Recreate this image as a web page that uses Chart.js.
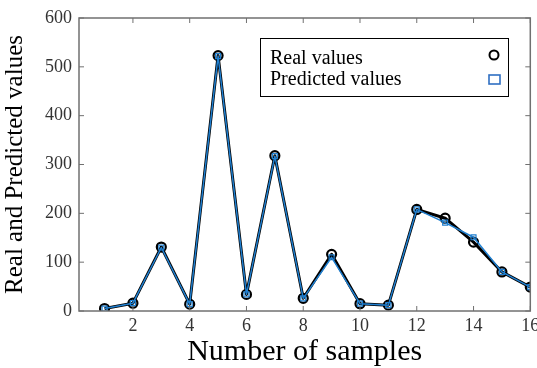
<!DOCTYPE html>
<html>
<head>
<meta charset="utf-8">
<script src="https://cdn.jsdelivr.net/npm/chart.js@4/dist/chart.umd.min.js"></script>
<style>
  html, body { margin: 0; padding: 0; background: #fff; }
  #wrap { width: 537px; height: 368px; }
</style>
</head>
<body>
<div id="wrap"><canvas id="chart"></canvas></div>
<script>
const samples = [1, 2, 3, 4, 5, 6, 7, 8, 9, 10, 11, 12, 13, 14, 15, 16];
const realValues = [5, 16, 131, 14, 523, 34, 318, 26, 116, 15, 12, 208, 190, 141, 80, 49];
const predictedValues = [5, 16, 130, 14, 522, 34, 317, 26, 110, 15, 12, 208, 181, 151, 80, 49];
const xTicks = [2, 4, 6, 8, 10, 12, 14, 16];
const yTicks = [0, 100, 200, 300, 400, 500, 600];

const serif = '"Liberation Serif", "DejaVu Serif", serif';
const blue = '#1f7fd0';

// frame around the plot and inward tick marks
const framePlugin = {
    id: 'frame',
    afterDraw(chart) {
        const ctx = chart.ctx;
        const a = chart.chartArea;
        const xs = chart.scales.x, ys = chart.scales.y;
        ctx.save();
        ctx.strokeStyle = '#707070';
        ctx.lineWidth = 1.5;
        ctx.strokeRect(a.left, a.top, a.right - a.left, a.bottom - a.top);
        ctx.lineWidth = 1;
        ctx.beginPath();
        xTicks.forEach(v => {
            const px = xs.getPixelForValue(v);
            ctx.moveTo(px, a.bottom); ctx.lineTo(px, a.bottom - 5);
            ctx.moveTo(px, a.top); ctx.lineTo(px, a.top + 5);
        });
        yTicks.forEach(v => {
            const py = ys.getPixelForValue(v);
            ctx.moveTo(a.left, py); ctx.lineTo(a.left + 5, py);
            ctx.moveTo(a.right, py); ctx.lineTo(a.right - 5, py);
        });
        ctx.stroke();
        ctx.restore();
    }
};

// legend with the text on the left and the marker on the right
const legendPlugin = {
    id: 'sideLegend',
    afterDraw(chart) {
        const ctx = chart.ctx;
        ctx.save();
        ctx.fillStyle = '#fff';
        ctx.fillRect(260, 38, 248, 58);
        ctx.strokeStyle = '#000';
        ctx.lineWidth = 1;
        ctx.strokeRect(260.5, 38.5, 248, 58);
        ctx.fillStyle = '#000';
        ctx.font = '20px ' + serif;
        ctx.textBaseline = 'middle';
        ctx.fillText('Real values', 270, 59);
        ctx.fillText('Predicted values', 270, 80);
        ctx.lineWidth = 2;
        ctx.beginPath();
        ctx.arc(494, 55, 4.5, 0, Math.PI * 2);
        ctx.stroke();
        ctx.strokeStyle = '#2f6fc2';
        ctx.lineWidth = 1.6;
        ctx.strokeRect(489, 75, 11, 9);
        ctx.restore();
    }
};

const ctx = document.getElementById('chart').getContext('2d');
new Chart(ctx, {
    type: 'line',
    data: {
        datasets: [
            {
                label: 'Real values',
                order: 2,
                data: samples.map((s, i) => ({ x: s, y: realValues[i] })),
                borderColor: '#000',
                borderWidth: 3,
                borderJoinStyle: 'round',
                pointStyle: 'circle',
                pointRadius: 4.5,
                pointBorderWidth: 2.2,
                pointBorderColor: '#000',
                pointBackgroundColor: 'rgba(0,0,0,0)',
                tension: 0
            },
            {
                label: 'Predicted values',
                order: 1,
                data: samples.map((s, i) => ({ x: s, y: predictedValues[i] })),
                borderColor: blue,
                borderWidth: 1.5,
                borderJoinStyle: 'round',
                pointStyle: 'rect',
                pointRadius: 3.5,
                pointBorderWidth: 1.2,
                pointBorderColor: blue,
                pointBackgroundColor: 'rgba(0,0,0,0)',
                tension: 0
            }
        ]
    },
    options: {
        responsive: true,
        maintainAspectRatio: false,
        animation: false,
        layout: { padding: { top: 18, right: 5, left: 0, bottom: 0 } },
        plugins: {
            legend: { display: false },
            tooltip: { enabled: false }
        },
        scales: {
            x: {
                type: 'linear',
                min: 0.1,
                max: 16,
                afterBuildTicks: scale => { scale.ticks = xTicks.map(v => ({ value: v })); },
                afterFit: scale => { scale.height = 57; scale.paddingLeft = 0; scale.paddingRight = 0; },
                grid: { display: false, drawTicks: false },
                border: { display: false },
                ticks: { color: '#333', font: { family: serif, size: 18 }, padding: 4, maxRotation: 0 },
                title: { display: true, text: 'Number of samples', color: '#000', font: { family: serif, size: 30 }, padding: { top: 0, bottom: -2 } }
            },
            y: {
                min: 0,
                max: 600,
                afterBuildTicks: scale => { scale.ticks = yTicks.map(v => ({ value: v })); },
                afterFit: scale => { scale.width = 79; scale.paddingTop = 0; scale.paddingBottom = 0; },
                grid: { display: false, drawTicks: false },
                border: { display: false },
                ticks: { color: '#333', font: { family: serif, size: 18 }, padding: 7 },
                title: { display: true, text: 'Real and Predicted values', color: '#000', font: { family: serif, size: 25 }, padding: { top: 0, bottom: 2 } }
            }
        }
    },
    plugins: [framePlugin, legendPlugin]
});
</script>
</body>
</html>
